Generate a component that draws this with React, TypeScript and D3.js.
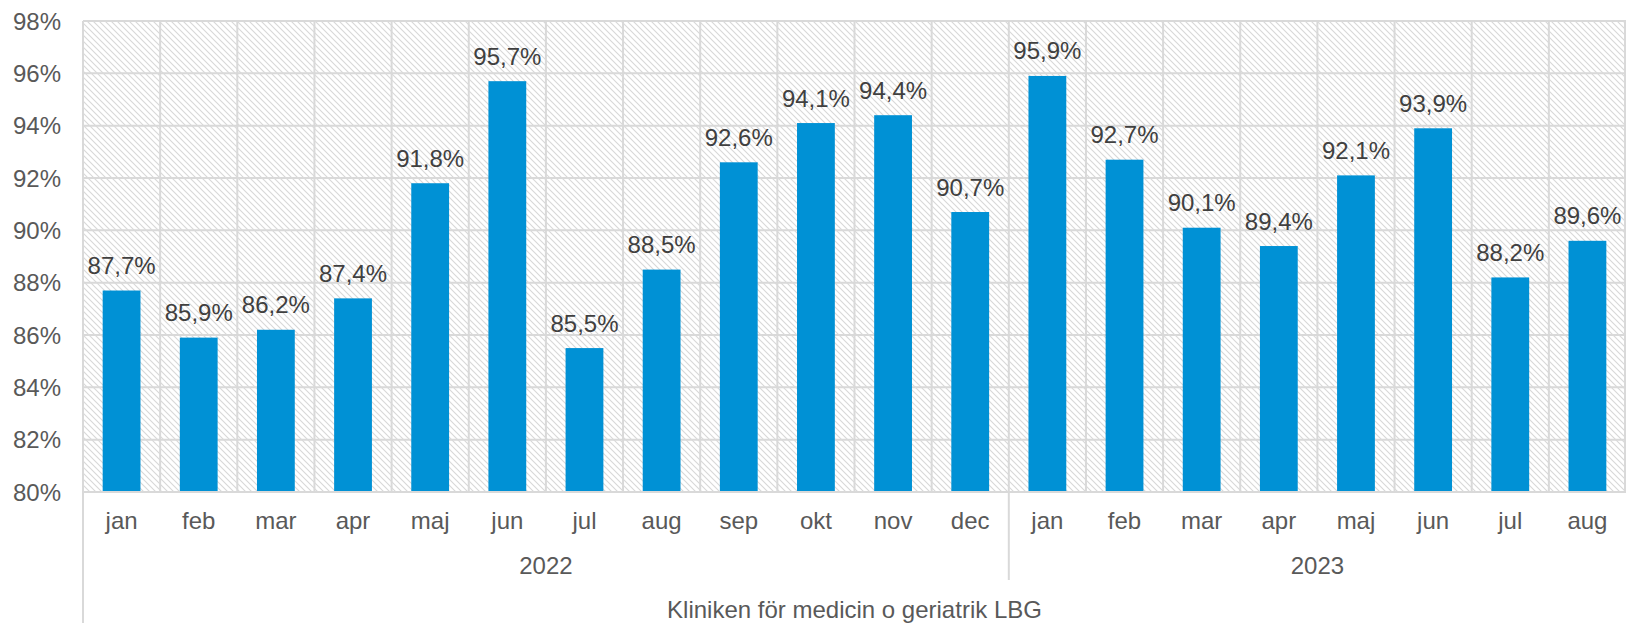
import React from "react";
import * as d3 from "d3";

const months = ["jan","feb","mar","apr","maj","jun","jul","aug","sep","okt","nov","dec","jan","feb","mar","apr","maj","jun","jul","aug"];
const years = ["2022","2022","2022","2022","2022","2022","2022","2022","2022","2022","2022","2022","2023","2023","2023","2023","2023","2023","2023","2023"];
const values = [87.7,85.9,86.2,87.4,91.8,95.7,85.5,88.5,92.6,94.1,94.4,90.7,95.9,92.7,90.1,89.4,92.1,93.9,88.2,89.6];
const yTicks = [80,82,84,86,88,90,92,94,96,98];
const groupTitle = "Kliniken för medicin o geriatrik LBG";

const W = 1626, H = 623;
const left = 83, right = 1626, top = 21, bottom = 492;
const font = "'Liberation Sans', Arial, sans-serif";
const textColor = "#595959";
const grid = "#d9d9d9";
const fs = 24;

export default function App() {
  const idx = months.map((_, i) => String(i));
  const x = d3.scaleBand<string>().domain(idx).range([left, right]).paddingInner(0).paddingOuter(0);
  const y = d3.scaleLinear().domain([80, 98]).range([bottom, top]);
  const bw = x.bandwidth();
  const barW = bw * 0.49;
  const fmt = (v: number) => v.toFixed(1).replace(".", ",") + "%";

  const groups: { year: string; start: number; end: number }[] = [];
  years.forEach((yr, i) => {
    const g = groups[groups.length - 1];
    if (g && g.year === yr) g.end = i;
    else groups.push({ year: yr, start: i, end: i });
  });

  return (
    <svg width={W} height={H} style={{ position: "fixed", left: 0, top: 0, background: "#fff" }} fontFamily={font}>
      <defs>
        <pattern id="hatch" patternUnits="userSpaceOnUse" width="6" height="6">
          <rect width="6" height="6" fill="#fff" />
          <path d="M-1,-1 L7,7 M-1,5 L1,7 M5,-1 L7,1" stroke="#d8d8d8" strokeWidth="1.1" />
        </pattern>
      </defs>
      <rect x={left} y={top} width={right - left} height={bottom - top} fill="url(#hatch)" />
      {yTicks.map(t => (
        <line key={"h" + t} x1={left} x2={right} y1={y(t)} y2={y(t)} stroke={grid} strokeWidth={2} />
      ))}
      {idx.map((k, i) => (
        <line key={"v" + i} x1={(x(k) as number)} x2={(x(k) as number)} y1={top} y2={bottom} stroke={grid} strokeWidth={2} />
      ))}
      <line x1={right - 1} x2={right - 1} y1={top} y2={bottom} stroke={grid} strokeWidth={2} />
      {values.map((v, i) => {
        const cx = (x(String(i)) as number) + bw / 2;
        return (
          <g key={"b" + i}>
            <rect x={cx - barW / 2} y={y(v)} width={barW} height={y(80) - y(v)} fill="#0091d5" />
            <text x={cx} y={y(v) - 16.5} textAnchor="middle" fontSize={fs} fill="#404040">{fmt(v)}</text>
          </g>
        );
      })}
      <line x1={left} x2={right} y1={bottom} y2={bottom} stroke={grid} strokeWidth={2} />
      <line x1={left} x2={left} y1={top} y2={H} stroke={grid} strokeWidth={2} />
      {yTicks.map(t => (
        <text key={"yt" + t} x={61} y={y(t) + 8.5} textAnchor="end" fontSize={fs} fill={textColor}>{t}%</text>
      ))}
      {months.map((m, i) => (
        <text key={"m" + i} x={(x(String(i)) as number) + bw / 2} y={529} textAnchor="middle" fontSize={fs} fill={textColor}>{m}</text>
      ))}
      {groups.map((g, gi) => {
        const x0 = x(String(g.start)) as number;
        const x1 = (x(String(g.end)) as number) + bw;
        return (
          <g key={"g" + gi}>
            {gi > 0 && <line x1={x0} x2={x0} y1={bottom} y2={580} stroke={grid} strokeWidth={2} />}
            <text x={(x0 + x1) / 2} y={574} textAnchor="middle" fontSize={fs} fill={textColor}>{g.year}</text>
          </g>
        );
      })}
      <text x={(left + right) / 2} y={618} textAnchor="middle" fontSize={fs} fill={textColor}>{groupTitle}</text>
    </svg>
  );
}
